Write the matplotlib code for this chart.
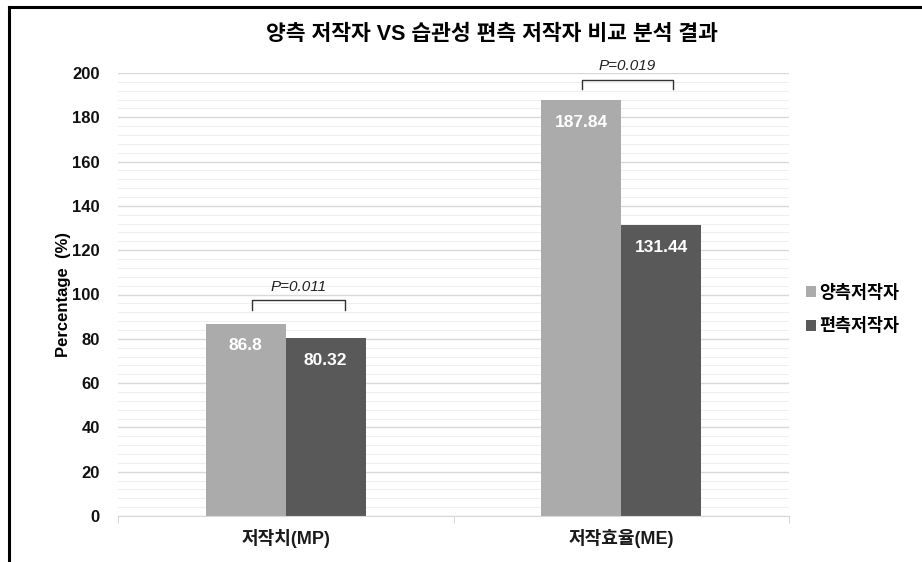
import matplotlib
matplotlib.use("Agg")
import matplotlib.pyplot as plt
from matplotlib.lines import Line2D
from matplotlib.patches import Patch
import numpy as np

plt.rcParams['font.family'] = ['Liberation Sans', 'Noto Sans CJK KR']

categories = ['저작치(MP)', '저작효율(ME)']
series_names = ['양측저작자', '편측저작자']
bilateral = [86.8, 187.84]
unilateral = [80.32, 131.44]
p_labels = ['P=0.011', 'P=0.019']
colors = ['#ABABAB', '#595959']

fig = plt.figure(figsize=(9.22, 5.62), dpi=100)
ax = fig.add_axes([118 / 922, 1 - 516 / 562, (789 - 118) / 922, (516 - 73) / 562])

x = np.arange(len(categories))
w = 0.238
bars1 = ax.bar(x - w / 2, bilateral, w, color=colors[0], zorder=3)
bars2 = ax.bar(x + w / 2, unilateral, w, color=colors[1], zorder=3)

ax.set_xlim(-0.5, 1.5)
ax.set_ylim(0, 200)
ax.set_yticks(np.arange(0, 201, 20))
ax.set_yticks(np.arange(0, 201, 4), minor=True)
ax.grid(axis='y', which='major', color='#d9d9d9', lw=1.0, zorder=0)
ax.grid(axis='y', which='minor', color='#efefef', lw=0.8, zorder=0)

ax.set_xticks(x)
ax.set_xticklabels(categories, fontsize=13, fontweight='bold', color='#1a1a1a')
ax.set_xticks([-0.5, 0.5, 1.5], minor=True)
ax.tick_params(axis='x', which='major', length=0, pad=9)
ax.tick_params(axis='x', which='minor', length=5, color='#d0d0d0')
ax.tick_params(axis='y', which='both', length=0, pad=13)
for lab in ax.get_yticklabels():
    lab.set_fontweight('bold')
    lab.set_fontsize(12)
    lab.set_color('#111111')

for s in ['top', 'right', 'left']:
    ax.spines[s].set_visible(False)
ax.spines['bottom'].set_color('#d9d9d9')
ax.spines['bottom'].set_zorder(4)

ax.set_ylabel('Percentage  (%)', fontsize=12, fontweight='bold', labelpad=1)

# value labels inside bars
for bars, vals in [(bars1, bilateral), (bars2, unilateral)]:
    for b, v in zip(bars, vals):
        ax.annotate(f'{v:g}', (b.get_x() + b.get_width() / 2, v), xytext=(0, -16),
                    textcoords='offset points', ha='center', va='center',
                    color='white', fontsize=12.5, fontweight='bold', zorder=5)

# significance brackets
brackets = [(-0.10, 0.177, 97.5, 93.0), (0.883, 1.154, 197.0, 193.0)]
for (x0, x1, top, bot), lab in zip(brackets, p_labels):
    ax.plot([x0, x0, x1, x1], [bot, top, top, bot], color='#333333', lw=1.0,
            zorder=5, clip_on=False)
    ax.text((x0 + x1) / 2, top + 6.0, lab, ha='center', va='center',
            fontsize=11, fontstyle='italic', color='#222222', clip_on=False)

fig.text(492 / 922, 1 - 35 / 562, '양측 저작자 VS 습관성 편측 저작자 비교 분석 결과',
         ha='center', va='center', fontsize=15.5, fontweight='bold')

handles = [Patch(facecolor=c) for c in colors]
fig.legend(handles, series_names, loc='center left',
           bbox_to_anchor=(790 / 922, 1 - 309 / 562), frameon=False,
           prop={'weight': 'bold', 'size': 12.5}, handlelength=0.6,
           handleheight=0.6, handletextpad=0.2, labelspacing=0.95)

# outer frame lines
fig.add_artist(Line2D([8.5 / 922, 1], [1 - 6.5 / 562, 1 - 6.5 / 562],
                      transform=fig.transFigure, color='black', lw=2.2))
fig.add_artist(Line2D([8.5 / 922, 8.5 / 922], [0, 1 - 6.5 / 562],
                      transform=fig.transFigure, color='black', lw=2.2))

fig.savefig('out.png', dpi=100)
